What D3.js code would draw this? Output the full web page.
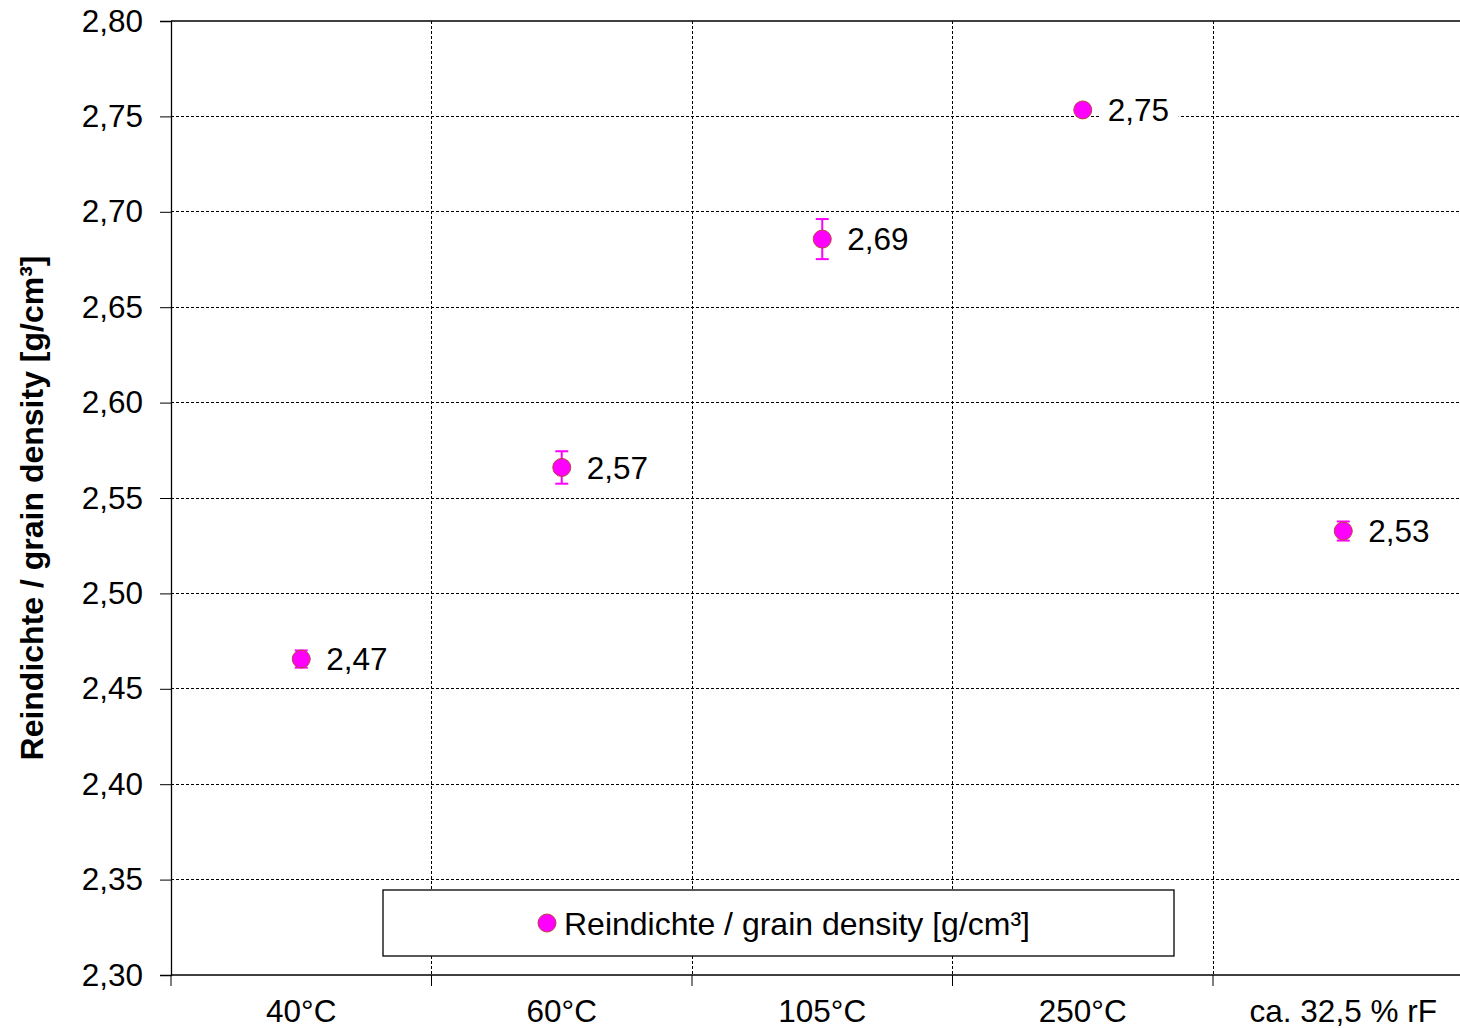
<!DOCTYPE html>
<html>
<head>
<meta charset="utf-8">
<script src="https://cdn.jsdelivr.net/npm/d3@7"></script>
<style>
  body { margin: 0; background: #fff; }
  svg { display: block; }
  text { font-family: Arial, "Liberation Sans", sans-serif; fill: #000; }
</style>
</head>
<body>
<script>
'use strict';

{
	const categories = ["40°C", "60°C", "105°C", "250°C", "ca. 32,5 % rF"];
	const density = [2.4656, 2.566, 2.6857, 2.7534, 2.5327];
	const densityErr = [0.0045, 0.0085, 0.0105, 0.001, 0.005];
	const yTicks = [2.30, 2.35, 2.40, 2.45, 2.50, 2.55, 2.60, 2.65, 2.70, 2.75, 2.80];
	const seriesName = "Reindichte / grain density [g/cm³]";

	let width = 1460, height = 1028;
	let margin = {top: 21, left: 171, bottom: 53};
	let plotW = 1302.5,
	    plotH = height - margin.top - margin.bottom;
	let fs = "31.5px";

	let fmt = v => d3.format(".2f")(v).replace(".", ",");

	let svg = d3.select("body").append("svg")
		.attr("width", width)
		.attr("height", height);

	let g = svg.append("g")
		.attr("transform", `translate(${margin.left},${margin.top})`);

	let x = d3.scaleBand()
		.domain(categories)
		.range([0, plotW]);

	let y = d3.scaleLinear()
		.domain([2.30, 2.80])
		.range([plotH, 0]);

	// horizontal grid
	g.append("g")
		.selectAll("line")
		.data(yTicks.slice(1, -1))
		.enter().append("line")
		.attr("x1", 0).attr("x2", plotW)
		.attr("y1", d => y(d)).attr("y2", d => y(d))
		.attr("stroke", "#000").attr("stroke-width", 1)
		.attr("stroke-dasharray", "3,2")
		.attr("shape-rendering", "crispEdges");

	// vertical grid at category boundaries
	g.append("g")
		.selectAll("line")
		.data(categories.slice(1))
		.enter().append("line")
		.attr("x1", d => x(d)).attr("x2", d => x(d))
		.attr("y1", 0).attr("y2", plotH)
		.attr("stroke", "#000").attr("stroke-width", 1)
		.attr("stroke-dasharray", "3,2")
		.attr("shape-rendering", "crispEdges");

	// top border
	g.append("line")
		.attr("x1", 0).attr("x2", plotW)
		.attr("y1", 0).attr("y2", 0)
		.attr("stroke", "#000").attr("stroke-width", 1.3);

	// y axis
	let yAxis = g.append("g")
		.call(d3.axisLeft(y).tickValues(yTicks).tickSize(11).tickPadding(17).tickFormat(fmt));
	yAxis.select(".domain").attr("stroke-width", 1.3);
	yAxis.selectAll("text").style("font-size", fs).attr("fill", "#000");

	// x axis, ticks at band edges
	let xAxis = g.append("g")
		.attr("transform", `translate(0,${plotH})`);
	xAxis.append("line")
		.attr("x1", 0).attr("x2", plotW)
		.attr("stroke", "#000").attr("stroke-width", 1.3);
	xAxis.selectAll(".tk")
		.data(categories)
		.enter().append("line")
		.attr("class", "tk")
		.attr("x1", d => x(d)).attr("x2", d => x(d))
		.attr("y1", 0).attr("y2", 11)
		.attr("stroke", "#000").attr("stroke-width", 1);
	xAxis.selectAll("text")
		.data(categories)
		.enter().append("text")
		.attr("x", d => x(d) + x.bandwidth() / 2)
		.attr("y", 47)
		.attr("text-anchor", "middle")
		.style("font-size", fs)
		.text(d => d);

	// y axis title
	svg.append("text")
		.attr("transform", `translate(43,${margin.top + plotH / 2 + 10}) rotate(-90)`)
		.attr("text-anchor", "middle")
		.style("font-size", "32px")
		.style("font-weight", "bold")
		.text(seriesName);

	let pts = categories.map((c, i) => ({cat: c, v: density[i], e: densityErr[i]}));
	let cx = d => x(d.cat) + x.bandwidth() / 2;

	// error bars
	let eb = g.append("g").selectAll("g")
		.data(pts)
		.enter().append("g")
		.attr("stroke", "#ff00ff").attr("stroke-width", 2);
	eb.append("line")
		.attr("x1", cx).attr("x2", cx)
		.attr("y1", d => y(d.v - d.e)).attr("y2", d => y(d.v + d.e));
	eb.append("line")
		.attr("x1", d => cx(d) - 6.5).attr("x2", d => cx(d) + 6.5)
		.attr("y1", d => y(d.v - d.e)).attr("y2", d => y(d.v - d.e));
	eb.append("line")
		.attr("x1", d => cx(d) - 6.5).attr("x2", d => cx(d) + 6.5)
		.attr("y1", d => y(d.v + d.e)).attr("y2", d => y(d.v + d.e));

	// markers
	g.append("g").selectAll("circle")
		.data(pts)
		.enter().append("circle")
		.attr("cx", cx)
		.attr("cy", d => y(d.v))
		.attr("r", 9)
		.attr("fill", "#ff00ff")
		.attr("stroke", "#b8453a")
		.attr("stroke-width", 1);

	// value labels with white background
	let lab = g.append("g").selectAll("g")
		.data(pts)
		.enter().append("g")
		.attr("transform", d => `translate(${cx(d) + 25},${y(d.v)})`);
	lab.append("rect")
		.attr("x", -7).attr("y", -15)
		.attr("width", 78).attr("height", 30)
		.attr("fill", "#fff");
	lab.append("text")
		.attr("dy", "0.36em")
		.style("font-size", fs)
		.text(d => fmt(d.v));

	// legend
	let leg = svg.append("g")
		.attr("transform", "translate(383,890)");
	leg.append("rect")
		.attr("width", 791).attr("height", 66)
		.attr("fill", "#fff")
		.attr("stroke", "#000").attr("stroke-width", 1.3);
	leg.append("circle")
		.attr("cx", 164).attr("cy", 33).attr("r", 9)
		.attr("fill", "#ff00ff")
		.attr("stroke", "#b8453a").attr("stroke-width", 1);
	leg.append("text")
		.attr("x", 181).attr("y", 33)
		.attr("dy", "0.36em")
		.style("font-size", "32px")
		.text(seriesName);
}
</script>
</body>
</html>
